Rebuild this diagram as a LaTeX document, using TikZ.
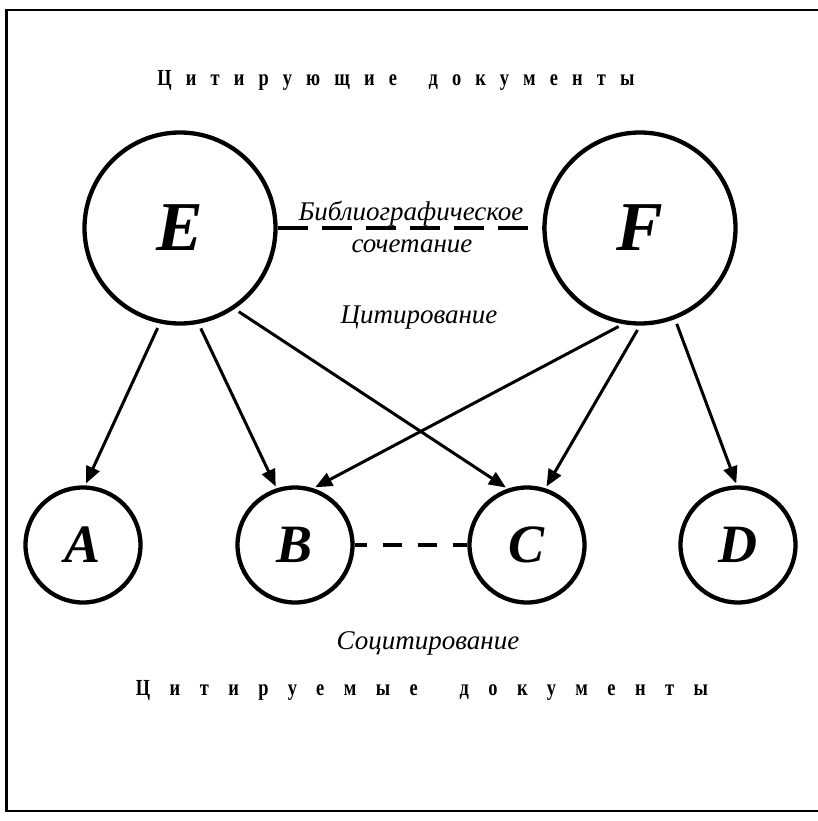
\documentclass[tikz,border=0pt]{standalone}
\usepackage{fontspec}
\setmainfont{Liberation Serif}
\usetikzlibrary{arrows.meta}
\begin{document}
\begin{tikzpicture}[x=1pt,y=-1pt,
  big/.style={circle,draw,line width=4.3pt,minimum size=191pt,inner sep=0pt,
    font=\fontsize{70}{70}\selectfont\bfseries\itshape},
  small/.style={circle,draw,line width=4.3pt,minimum size=115pt,inner sep=0pt,
    font=\fontsize{54}{54}\selectfont\bfseries\itshape},
  cite/.style={line width=3pt,-{Triangle[length=17pt,width=14pt]},shorten <=5pt,shorten >=2pt},
  bibl/.style={line width=3.3pt,dash pattern=on 30pt off 14pt},
  cocit/.style={line width=3.3pt,dash pattern=on 19pt off 16pt,dash phase=7pt},
  lbl/.style={font=\fontsize{27}{27}\selectfont\itshape,inner sep=0pt},
  ttl/.style={font=\fontsize{23}{23}\selectfont\bfseries,inner sep=0pt}
]
\useasboundingbox (0,0) rectangle (818,821);
\draw[line width=2.3pt] (825,10) -- (6.5,10) -- (6.5,811) -- (825,811);

\node[ttl] (top) at (396,80) {\scalebox{0.8}[1]{\addfontfeature{LetterSpace=77}Цитирующие\hspace{16pt} документы}};
\node[ttl] (bot) at (422,690) {\scalebox{0.8}[1]{\addfontfeature{LetterSpace=106}Цитируемые\hspace{22pt} документы}};

\node[big] (E) at (180,228) {E};
\node[big] (F) at (640,228) {F};
\node[small] (A) at (83,545) {A};
\node[small] (B) at (295,545) {B};
\node[small] (C) at (527,545) {C};
\node[small] (D) at (738,545) {D};

\draw[bibl] (E.east) -- (F.west);
\draw[cocit] (B.east) -- (C.west);

\node[lbl] (bib1) at (411,214) {Библиографическое};
\node[lbl] (bib2) at (412,246) {сочетание};
\node[lbl] (cit) at (419,318) {Цитирование};
\node[lbl] (cocitl) at (428,643) {Социтирование};

\draw[cite] (E.258) -- (A.88);
\draw[cite] (E.281.5) -- (B.108);
\draw[cite] (E.304.5) -- (C.109.5);
\draw[cite] (F.260) -- (B.72);
\draw[cite] (F.270) -- (C.72);
\draw[cite] (F.291) -- (D.91);
\end{tikzpicture}
\end{document}
